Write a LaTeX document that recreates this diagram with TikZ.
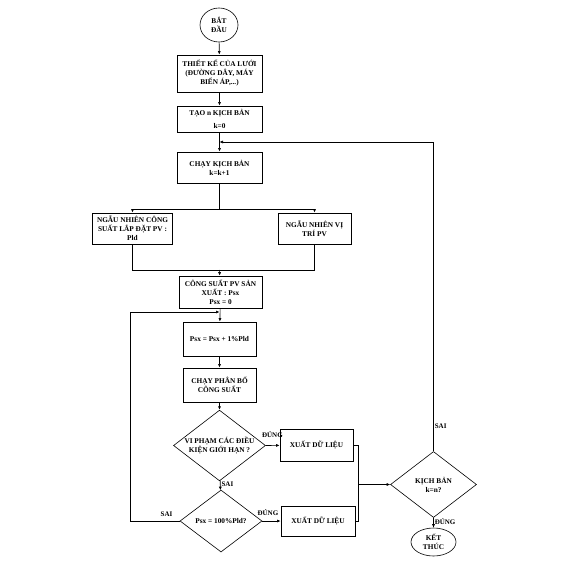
\documentclass[tikz,border=0pt]{standalone}
\usepackage{fontspec}
\setmainfont{Liberation Serif}
\usepackage{tikz}
\usetikzlibrary{arrows.meta,positioning,shapes.geometric,calc}

\begin{document}
\begin{tikzpicture}[
  x=1pt, y=-1pt,
  font=\fontsize{7.3}{9}\selectfont\bfseries,
  >=Latex,
  box/.style={
    draw,
    line width=0.8pt,
    inner sep=1pt,
    align=center
  },
  oval/.style={
    draw,
    ellipse,
    line width=0.6pt,
    inner sep=0pt,
    align=center
  },
  test/.style={
    draw,
    diamond,
    line width=0.6pt,
    inner sep=0pt,
    aspect=1.3,
    align=center
  },
  arrow/.style={
    -{Latex[length=3.5pt,width=3pt]},
    line width=0.6pt
  },
  wire/.style={
    line width=0.6pt
  },
  tag/.style={
    font=\fontsize{7}{8}\selectfont\bfseries,
    inner sep=1pt
  }
]
\useasboundingbox (0,0) rectangle (566,569);

%---------------------------------
% Main column
%---------------------------------
\node[oval, minimum width=38pt, minimum height=34pt] (start) at (219,25)
{BẮT\\ĐẦU};

\node[box, minimum width=85pt, minimum height=37pt] (design) at (219.5,73.5)
{THIẾT KẾ CỦA LƯỚI\\(ĐƯỜNG DÂY, MÁY\\BIẾN ÁP,...)};

\node[box, minimum width=85pt, minimum height=26pt] (init) at (219.5,119)
{TẠO n KỊCH BẢN\\[4pt]k=0};

\node[box, minimum width=85pt, minimum height=31pt] (run) at (219.5,167.5)
{CHẠY KỊCH BẢN\\k=k+1};

\node[box, minimum width=80pt, minimum height=31pt] (size) at (132.5,228.5)
{NGẪU NHIÊN CÔNG\\SUẤT LẮP ĐẶT PV :\\Pld};

\node[box, minimum width=73pt, minimum height=31pt] (place) at (314.5,228.5)
{NGẪU NHIÊN VỊ\\TRÍ PV};

\node[box, minimum width=83pt, minimum height=32pt] (power) at (220.5,292)
{CÔNG SUẤT PV SẢN\\XUẤT : Psx\\Psx = 0};

\node[box, minimum width=73pt, minimum height=34pt] (step) at (219.5,339)
{Psx = Psx + 1\%Pld};

\node[box, minimum width=73pt, minimum height=34pt] (flow) at (219.5,385)
{CHẠY PHÂN BỔ\\CÔNG SUẤT};

\node[test, minimum width=85pt, minimum height=65pt] (check) at (219.5,445.5)
{VI PHẠM CÁC ĐIỀU\\KIỆN GIỚI HẠN ?};

\node[test, minimum width=82pt, minimum height=62pt] (full) at (221,521)
{Psx = 100\%Pld?};

%---------------------------------
% Output and end
%---------------------------------
\node[box, minimum width=73pt, minimum height=32pt] (outA) at (316.5,445)
{XUẤT DỮ LIỆU};

\node[box, minimum width=74pt, minimum height=30pt] (outB) at (318,521)
{XUẤT DỮ LIỆU};

\node[test, minimum width=86pt, minimum height=66pt] (last) at (433.5,484.5)
{KỊCH BẢN\\k=n?};

\node[oval, minimum width=45pt, minimum height=28pt] (stop) at (433.5,542)
{KẾT\\THÚC};

%---------------------------------
% Coordinates
%---------------------------------
\coordinate (split) at (219.5,209);
\coordinate (merge) at (219.5,270);
\coordinate (back)  at (219.5,142);
\coordinate (loop)  at (219.5,312);
\coordinate (join)  at (358,484.5);

%---------------------------------
% Connections
%---------------------------------
\draw[arrow] (start) -- (design);
\draw[arrow] (design) -- (init);
\draw[arrow] (init) -- (run);
\draw[wire] (run) -- (split);
\draw[arrow] (split) -| (size.north);
\draw[arrow] (split) -| (place.north);
\draw[wire] (size.south) |- (merge);
\draw[wire] (place.south) |- (merge);
\draw[arrow] (merge) -- (power);
\draw[arrow] (power) -- (step);
\draw[arrow] (step) -- (flow);
\draw[arrow] (flow) -- (check);
\draw[arrow] (check) -- node[tag, pos=0.35, right] {SAI} (full);
\draw[arrow] (check.east) -- node[tag, pos=0, anchor=south west, xshift=-5pt, yshift=7pt] {ĐÚNG} (outA);
\draw[arrow] (full.east) -- node[tag, pos=0, anchor=south west, xshift=-6pt, yshift=4pt] {ĐÚNG} (outB);
\draw[arrow] (full.west) -- node[tag, pos=0.27, above=3pt] {SAI} ++(-49,0) |- (loop);
\draw[wire] (outA.east) -| (join);
\draw[wire] (outB.east) -| (join);
\draw[arrow] (join) -- (last.west);
\draw[arrow] (last.north) -- node[tag, pos=0.08, right] {SAI} (last.north |- back) -- (back);
\draw[arrow] (last.south) -- node[tag, pos=0.4, right] {ĐÚNG} (stop);

\end{tikzpicture}
\end{document}
